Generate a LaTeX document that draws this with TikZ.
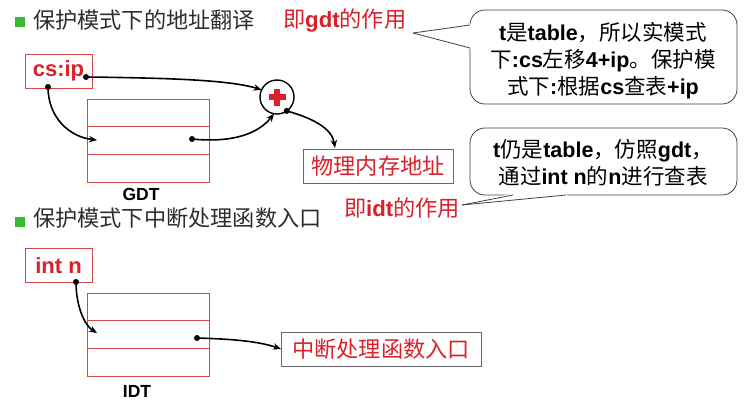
\documentclass[tikz,border=0pt]{standalone}
\usepackage{fontspec}
\setmainfont{Liberation Sans}
\newfontfamily\cjk{Noto Sans CJK SC}
\usetikzlibrary{arrows.meta,calc}
\definecolor{myred}{RGB}{218,32,40}
\definecolor{boxred}{RGB}{214,70,70}
\definecolor{bulletgreen}{RGB}{60,185,50}
\definecolor{titlegray}{RGB}{45,45,45}
\definecolor{boxgray}{RGB}{105,105,105}
\newcommand\zhtxt[1]{{\cjk #1}}
\newcommand\latb[1]{{\bfseries #1}}
\begin{document}
\begin{tikzpicture}[x=1pt,y=-1pt,
  every node/.style={inner sep=0pt, outer sep=0pt},
  big/.style={font=\fontsize{22.2}{26}\selectfont},
  titletext/.style={big, text=titlegray, anchor=west},
  redlbl/.style={big, text=myred, anchor=west},
  bullet/.style={fill=bulletgreen, minimum size=10pt},
  regbox/.style={draw=boxred, line width=0.8pt, minimum width=67pt, minimum height=34pt, text=myred, font=\fontsize{22}{26}\selectfont\bfseries},
  outbox/.style={draw=boxgray, line width=0.9pt, minimum height=34pt, big, text=myred},
  tbl/.style={draw=boxred, line width=0.7pt, minimum width=122pt, minimum height=83pt},
  tbllbl/.style={font=\fontsize{17.5}{20}\selectfont\bfseries},
  callout/.style={draw=black!75, line width=0.8pt, rounded corners=15pt, fill=white, minimum width=267pt},
  callouttxt/.style={align=center, font=\fontsize{21.5}{27}\selectfont},
  arr/.style={line width=1.6pt, -{Stealth[length=8pt,width=6.5pt]}},
  dot/.style={fill=black, circle, minimum size=6pt}
]
\useasboundingbox (0,0) rectangle (744,400);

% ---- section 1 ----
\node[bullet] (b1) at (20,22) {};
\node[titletext] (t1) at (33,20) {\zhtxt{保护模式下的地址翻译}};
\node[redlbl] (g1) at (283,20) {\zhtxt{即}\latb{gdt}\zhtxt{的作用}};

\node[regbox] (csip) at (58.5,71) {cs:ip};
\node[tbl] (gdt) at (148,140.5) {};
\draw[boxred, line width=0.7pt] ($(gdt.north west)!1/3!(gdt.south west)$) -- ($(gdt.north east)!1/3!(gdt.south east)$);
\draw[boxred, line width=0.7pt] ($(gdt.north west)!2/3!(gdt.south west)$) -- ($(gdt.north east)!2/3!(gdt.south east)$);
\node[tbllbl] (gdtl) at (141,194) {GDT};

\node[circle, draw=black, line width=1.4pt, minimum size=34pt, fill=white] (plus) at (277,97) {};
\fill[myred] (268.5,94.3) rectangle (285.5,99.7);
\fill[myred] (274.3,88.5) rectangle (279.7,105.5);

\node[outbox, minimum width=150pt] (phys) at (378,166) {\zhtxt{物理内存地址}};

\coordinate (d1) at (86,77);
\coordinate (d2) at (48,87);
\coordinate (e2) at (97,140);
\coordinate (d3) at (192,139);
\coordinate (e4) at (335,148);

\draw[arr] (d1) .. controls (170,78) and (230,80) .. (plus.155);
\draw[arr] (d2) .. controls (48,118) and (70,137) .. (e2);
\draw[arr] (d3) .. controls (232,143) and (258,134) .. (plus.-100);
\draw[arr] (plus.-55) .. controls (312,118) and (332,128) .. (e4);
\foreach \p in {d1,d2,d3} \node[dot] at (\p) {};
\node[dot] at (plus.-55) {};

% ---- callout 1 ----
\node[callout, minimum height=94pt] (c1) at (603.5,57) {};
\coordinate (tip1) at (413,33);
\fill[white] (tip1) -- (471.5,24) -- (471.5,49) -- cycle;
\draw[black!75, line width=0.8pt] (tip1) -- (470,25);
\draw[black!75, line width=0.8pt] (tip1) -- (470,48);
\node[callouttxt] (c1t) at (603,61) {\latb{t}\zhtxt{是}\latb{table}\zhtxt{，所以实模式}\\\zhtxt{下}\latb{:cs}\zhtxt{左移}\latb{4+ip}\zhtxt{。保护模}\\\zhtxt{式下}\latb{:}\zhtxt{根据}\latb{cs}\zhtxt{查表}\latb{+ip}};

% ---- callout 2 ----
\node[callout, minimum height=67pt] (c2) at (603.5,161.5) {};
\coordinate (tip2) at (462,205);
\fill[white] (tip2) -- (512,193.5) -- (567,193.5) -- (567,197) -- cycle;
\draw[black!75, line width=0.8pt] (tip2) -- (513,195);
\draw[black!75, line width=0.8pt] (tip2) -- (566,195);
\node[callouttxt] (c2t) at (603,163) {\latb{t}\zhtxt{仍是}\latb{table}\zhtxt{，仿照}\latb{gdt}\zhtxt{，}\\\zhtxt{通过}\latb{int n}\zhtxt{的}\latb{n}\zhtxt{进行查表}};

\node[redlbl] (g2) at (344,208) {\zhtxt{即}\latb{idt}\zhtxt{的作用}};

% ---- section 2 ----
\node[bullet] (b2) at (20,222) {};
\node[titletext] (t2) at (33,218) {\zhtxt{保护模式下中断处理函数入口}};

\node[regbox] (intn) at (58.5,265.5) {int n};
\node[tbl] (idt) at (148,334.5) {};
\draw[boxred, line width=0.7pt] ($(idt.north west)!1/3!(idt.south west)$) -- ($(idt.north east)!1/3!(idt.south east)$);
\draw[boxred, line width=0.7pt] ($(idt.north west)!2/3!(idt.south west)$) -- ($(idt.north east)!2/3!(idt.south east)$);
\node[tbllbl] (idtl) at (137,391) {IDT};

\node[outbox, minimum width=200pt] (entry) at (381,349) {\zhtxt{中断处理函数入口}};

\coordinate (d5) at (76,282);
\coordinate (e5) at (97,333);
\coordinate (d6) at (197,338);
\draw[arr] (d5) .. controls (76,305) and (84,325) .. (e5);
\draw[arr] (d6) .. controls (230,339) and (258,341) .. (entry.west);
\node[dot] at (d5) {};
\node[dot] at (d6) {};
\end{tikzpicture}
\end{document}
